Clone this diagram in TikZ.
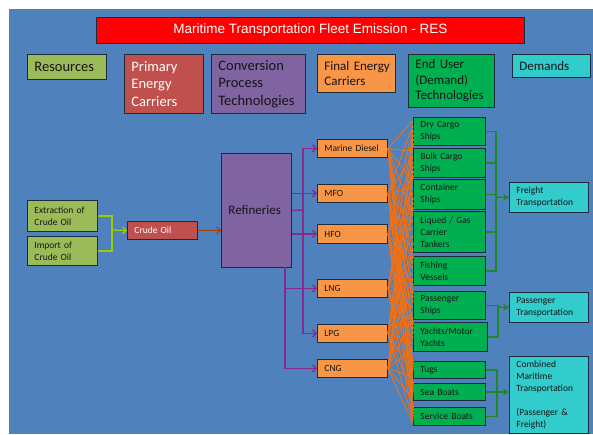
\documentclass[tikz,border=0pt]{standalone}
\usepackage{fontspec}
\setmainfont{Carlito}
\newfontfamily\titlefont{Liberation Sans}
\usetikzlibrary{arrows.meta,calc}

\definecolor{panel}{HTML}{4F81BD}
\definecolor{edge}{HTML}{1C2B3C}
\definecolor{ink}{HTML}{151515}
\definecolor{titlered}{HTML}{FF0000}
\definecolor{resgreen}{HTML}{9BBB59}
\definecolor{primred}{HTML}{C0504D}
\definecolor{convpurple}{HTML}{8064A2}
\definecolor{fuelorange}{HTML}{F79646}
\definecolor{techgreen}{HTML}{00B050}
\definecolor{demandcyan}{HTML}{33CCCC}
\definecolor{feedgreen}{HTML}{9ACD00}
\definecolor{crudebrown}{HTML}{A0410D}
\definecolor{refinepurple}{HTML}{862A8E}
\definecolor{meshorange}{HTML}{F7700F}
\definecolor{outgreen}{HTML}{1F8A25}

\begin{document}
\begin{tikzpicture}[x=1pt,y=-1pt,
  box/.style={draw=edge,line width=0.9pt,anchor=north west,align=left,
    inner xsep=7pt,inner ysep=0pt,text=ink},
  big/.style={font=\fontsize{14.5}{17.5}\selectfont},
  mid/.style={font=\fontsize{13}{15.5}\selectfont},
  small/.style={font=\fontsize{9.5}{12}\selectfont},
  barb/.style={-{Straight Barb[length=3.5pt,width=7pt]}},
  feed/.style={draw=feedgreen,line width=1.3pt,barb},
  crudeline/.style={draw=crudebrown,line width=1.2pt,barb},
  refine/.style={draw=refinepurple,line width=1.4pt},
  fuel/.style={draw=meshorange,line width=0.8pt,-{Triangle[length=3pt,width=3pt]}},
  serve/.style={draw=outgreen,line width=1.4pt},
  bigtip/.style={-{Stealth[length=6pt,width=7pt]}}]

\useasboundingbox (0,0) rectangle (593,434);
\fill[panel] (9,9) rectangle (593,434);

% heading row
\node[box,fill=titlered,text=white,align=center,minimum width=428pt,minimum height=26pt,
  font=\titlefont\fontsize{13.5}{16}\selectfont] (title) at (96,17)
  {Maritime Transportation Fleet Emission - RES};
\node[box,big,fill=resgreen,minimum width=79pt,minimum height=25pt,text width=65pt] (resources) at (27,54) {Resources};
\node[box,big,fill=primred,text=white,minimum width=79pt,minimum height=59pt,text width=65pt] (primary) at (124,54) {Primary\\Energy\\Carriers};
\node[box,big,fill=convpurple,minimum width=92pt,minimum height=59pt,text width=80pt] (conversion) at (211,54) {Conversion\\Process\\Technologies};
\node[box,mid,fill=fuelorange,minimum width=78pt,minimum height=38pt,text width=64pt] (final) at (317,54) {\mbox{Final Energy}\\Carriers};
\node[box,mid,fill=techgreen,minimum width=85pt,minimum height=53pt,text width=72pt] (enduser) at (408,54) {End User\\(Demand)\\Technologies};
\node[box,mid,fill=demandcyan,minimum width=78pt,minimum height=23pt,text width=64pt] (demands) at (512,54) {Demands};

% resources and primary carrier
\node[box,small,fill=resgreen,minimum width=70pt,minimum height=31pt,text width=56pt] (extraction) at (27,200) {Extraction of\\Crude Oil};
\node[box,small,fill=resgreen,minimum width=70pt,minimum height=29pt,text width=56pt] (import) at (27,236) {Import of\\Crude Oil};
\node[box,small,fill=primred,text=white,minimum width=70pt,minimum height=18pt,text width=56pt] (crude) at (127,221) {Crude Oil};
\node[box,mid,fill=convpurple,minimum width=68pt,minimum height=114pt,text width=56pt] (refineries) at (221,153) {Refineries};

% final energy carriers
\node[box,small,fill=fuelorange,minimum width=69pt,minimum height=18pt,text width=56pt] (diesel) at (317,139) {Marine Diesel};
\node[box,small,fill=fuelorange,minimum width=69pt,minimum height=18pt,text width=56pt] (mfo) at (317,184) {MFO};
\node[box,small,fill=fuelorange,minimum width=69pt,minimum height=19pt,text width=56pt] (hfo) at (317,224) {HFO};
\node[box,small,fill=fuelorange,minimum width=69pt,minimum height=18pt,text width=56pt] (lng) at (317,279) {LNG};
\node[box,small,fill=fuelorange,minimum width=69pt,minimum height=18pt,text width=56pt] (lpg) at (317,324) {LPG};
\node[box,small,fill=fuelorange,minimum width=69pt,minimum height=18pt,text width=56pt] (cng) at (317,359) {CNG};

% end user technologies
\node[box,small,fill=techgreen,minimum width=70pt,minimum height=28pt,text width=58pt] (drycargo) at (413,117) {Dry Cargo\\Ships};
\node[box,small,fill=techgreen,minimum width=70pt,minimum height=29pt,text width=58pt] (bulkcargo) at (413,148) {Bulk Cargo\\Ships};
\node[box,small,fill=techgreen,minimum width=70pt,minimum height=30pt,text width=58pt] (container) at (413,179) {Container\\Ships};
\node[box,small,fill=techgreen,minimum width=70pt,minimum height=41pt,text width=58pt] (liquid) at (413,211) {Liqued / Gas\\Carrier\\Tankers};
\node[box,small,fill=techgreen,minimum width=70pt,minimum height=29pt,text width=58pt] (fishing) at (413,256) {Fishing\\Vessels};
\node[box,small,fill=techgreen,minimum width=70pt,minimum height=28pt,text width=58pt] (passship) at (413,291) {Passenger\\Ships};
\node[box,small,fill=techgreen,minimum width=74pt,minimum height=29pt,text width=60pt] (yachts) at (413,322) {Yachts/Motor\\Yachts};
\node[box,small,fill=techgreen,minimum width=70pt,minimum height=17pt,text width=58pt] (tugs) at (413,361) {Tugs};
\node[box,small,fill=techgreen,minimum width=70pt,minimum height=17pt,text width=58pt] (seaboats) at (413,383) {Sea Boats};
\node[box,small,fill=techgreen,minimum width=70pt,minimum height=18pt,text width=58pt] (service) at (413,407) {Service Boats};

% demands
\node[box,small,fill=demandcyan,minimum width=79pt,minimum height=30pt,text width=65pt] (freight) at (509,182) {Freight\\Transportation};
\node[box,small,fill=demandcyan,minimum width=79pt,minimum height=30pt,text width=65pt] (passenger) at (509,292) {Passenger\\Transportation};
\node[box,small,fill=demandcyan,minimum width=79pt,minimum height=77pt,text width=65pt] (combined) at (509,356)
  {Combined\\Maritime\\Transportation\\[12pt](Passenger \&\\Freight)};

% resources -> crude oil -> refineries
\coordinate (fj) at (112,230);
\draw[feed,-] (extraction.east) -| (fj);
\draw[feed,-] (import.east) -| (fj);
\draw[feed] (fj) -- (crude.west);
\draw[crudeline] (crude.east) -- (crude.east -| refineries.west);

% refineries -> carriers
\coordinate (ra) at (303,210);
\coordinate (rb) at (285,267);
\draw[refine] (refineries.east) -- (ra);
\draw[refine,barb] (ra) |- (diesel.west);
\draw[refine,barb] (ra) |- (lpg.west);
\draw[refine,barb] (refineries.east |- mfo.west) -- (mfo.west);
\draw[refine,barb] (refineries.east |- hfo.west) -- (hfo.west);
\draw[refine,barb] (rb) |- (lng.west);
\draw[refine,barb] (rb) |- (cng.west);

% every carrier feeds every technology
\foreach \c [count=\i from 0] in {diesel,mfo,hfo,lng,lpg,cng}
  \foreach \t in {drycargo,bulkcargo,container,liquid,fishing,passship,yachts,tugs,seaboats,service}
    \draw[fuel] (\c.east) -- ($(\t.north west)!{0.12+0.152*\i}!(\t.south west)$);

% technologies -> demands
\coordinate (fb) at (496,197);
\foreach \t in {drycargo,bulkcargo,container,liquid,fishing}
  \draw[serve] (\t.east) -| (fb);
\draw[serve,bigtip] (fb) -- (freight.west);
\coordinate (pb) at (498,307);
\draw[serve] (passship.east) -| (pb);
\draw[serve] (yachts.east) -| (pb);
\draw[serve,bigtip] (pb) -- (passenger.west);
\coordinate (cb) at (497,392);
\foreach \t in {tugs,seaboats,service}
  \draw[serve] (\t.east) -| (cb);
\draw[serve,bigtip] (cb) -- (combined.west |- cb);
\end{tikzpicture}
\end{document}
